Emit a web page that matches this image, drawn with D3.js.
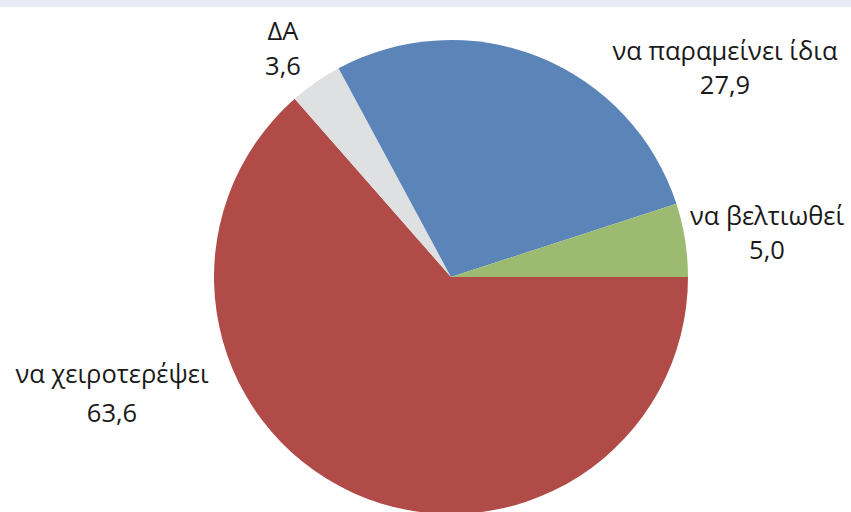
<!DOCTYPE html>
<html><head><meta charset="utf-8">
<script src="https://d3js.org/d3.v7.min.js"></script>
<style>body{margin:0;background:#fff}svg{display:block}</style>
</head><body>
<script>
const categories = ["να χειροτερέψει", "ΔΑ", "να παραμείνει ίδια", "να βελτιωθεί"];
const values = [63.6, 3.6, 27.9, 5.0];
const valueLabels = ["63,6", "3,6", "27,9", "5,0"];
const colors = ["#b04b48", "#dfe0e2", "#5b84b8", "#9cbb71"];

const W = 851, H = 512;
const svg = d3.select("body").append("svg").attr("width", W).attr("height", H);
svg.append("rect").attr("x",0).attr("y",0).attr("width",W).attr("height",7).attr("fill","#e9ecf4");

const cx = 451, cy = 277, r = 237;
const pie = d3.pie().sort(null).value(d => d)
  .startAngle(Math.PI/2).endAngle(Math.PI/2 + 2*Math.PI);
const arcs = pie(values);
const arc = d3.arc().innerRadius(0).outerRadius(r);
const g = svg.append("g").attr("transform", `translate(${cx},${cy})`);
g.selectAll("path").data(arcs).join("path")
  .attr("d", arc).attr("fill", (d,i) => colors[i]);

// label positions (name line baseline, value line baseline, center x)
const labelPos = [
  {x:112, y1:383, y2:422},
  {x:283, y1:40, y2:75},
  {x:725, y1:60, y2:94},
  {x:767, y1:225, y2:259}
];
const lg = svg.append("g").attr("font-family","Open Sans, sans-serif").attr("font-size",25.5).attr("fill","#1a1a1a").attr("text-anchor","middle");
categories.forEach((c,i) => {
  const p = labelPos[i];
  lg.append("text").attr("x",p.x).attr("y",p.y1).text(c);
  lg.append("text").attr("x",p.x).attr("y",p.y2).text(valueLabels[i]);
});
</script>
</body></html>
